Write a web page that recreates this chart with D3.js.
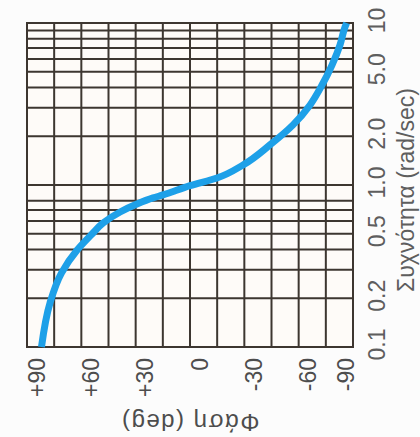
<!DOCTYPE html>
<html>
<head>
<meta charset="utf-8">
<script src="https://cdn.jsdelivr.net/npm/d3@7"></script>
<style>
  html, body { margin: 0; padding: 0; background: #fcfcfc; }
  svg { display: block; }
  text { font-family: "Liberation Sans", Arial, sans-serif; }
</style>
</head>
<body>
<svg id="chart" width="420" height="437"></svg>
<script>
// Phase response (deg) against frequency (rad/sec), drawn with the frequency axis vertical.
const freq  = [0.1, 0.187, 0.286, 0.397, 0.498, 0.582, 0.681, 0.763, 0.832, 0.868, 0.99, 1.105, 1.33, 1.77, 2.35, 3.12, 4.14, 5.5, 7.31, 9.45, 10];
const phase = [82, 77.3, 71, 62.3, 54.1, 48, 38.6, 29.3, 20.4, 14.9, 0, -14.9, -29.3, -44.2, -56.9, -66.3, -72.9, -78.4, -82.8, -85.6, -86.5];

const phaseTicks = [90, 60, 30, 0, -30, -60, -90];
const phaseTickLabels = ["+90", "+60", "+30", "0", "-30", "-60", "-90"];
const phaseGrid = [90, 75, 60, 45, 30, 15, 0, -15, -30, -45, -60, -75, -90];

const freqTicks = [0.1, 0.2, 0.5, 1, 2, 5, 10];
const freqTickLabels = ["0.1", "0.2", "0.5", "1.0", "2.0", "5.0", "10"];
const freqGrid = [0.2, 0.3, 0.4, 0.5, 0.6, 0.7, 0.8, 1, 2, 3, 4, 5, 6, 7, 8, 9];

const phaseTitle = "Φάση (deg)";
const freqTitle = "Συχνότητα (rad/sec)";

const svg = d3.select("#chart");
const plotL = 27, plotR = 353, plotT = 23, plotB = 347;

const x = d3.scaleLinear().domain([90, -90]).range([plotL, plotR]);
const y = d3.scaleLog().domain([0.1, 10]).range([plotB, plotT]);

const gridColor = "#3d3630";

// plot background
svg.append("rect")
  .attr("x", plotL).attr("y", plotT)
  .attr("width", plotR - plotL).attr("height", plotB - plotT)
  .attr("fill", "#fefbf8");

// grid
svg.append("g")
  .selectAll("line")
  .data(phaseGrid)
  .join("line")
  .attr("x1", d => x(d)).attr("x2", d => x(d))
  .attr("y1", plotT).attr("y2", plotB)
  .attr("stroke", gridColor).attr("stroke-width", 2);

svg.append("g")
  .selectAll("line")
  .data(freqGrid)
  .join("line")
  .attr("x1", plotL).attr("x2", plotR)
  .attr("y1", d => y(d)).attr("y2", d => y(d))
  .attr("stroke", gridColor).attr("stroke-width", 2);

// frame
svg.append("rect")
  .attr("x", plotL).attr("y", plotT)
  .attr("width", plotR - plotL).attr("height", plotB - plotT)
  .attr("fill", "none")
  .attr("stroke", gridColor).attr("stroke-width", 2);

// phase curve
const line = d3.line()
  .x((d, i) => x(phase[i]))
  .y(d => y(d))
  .curve(d3.curveMonotoneY);

svg.append("path")
  .datum(freq)
  .attr("d", line)
  .attr("fill", "none")
  .attr("stroke", "#1ea0e8")
  .attr("stroke-width", 7);

// phase axis (labels run upward beneath the plot)
const phaseAxis = svg.append("g")
  .attr("transform", `translate(0,${plotB})`)
  .call(d3.axisBottom(x)
    .tickValues(phaseTicks)
    .tickFormat((d, i) => phaseTickLabels[i])
    .tickSize(0));
phaseAxis.select(".domain").remove();
phaseAxis.selectAll("text")
  .attr("x", null).attr("y", null).attr("dy", null)
  .attr("text-anchor", "end")
  .attr("transform", d => `translate(${d === -90 ? 0 : 17},11) rotate(-90)`)
  .attr("font-size", 23)
  .attr("font-family", "Liberation Sans, Arial, sans-serif")
  .attr("fill", "#4d4d4d");

// frequency axis (labels run upward to the right of the plot)
const freqAxis = svg.append("g")
  .attr("transform", `translate(${plotR},0)`)
  .call(d3.axisRight(y)
    .tickValues(freqTicks)
    .tickFormat((d, i) => freqTickLabels[i])
    .tickSize(0));
freqAxis.select(".domain").remove();
freqAxis.selectAll("text")
  .attr("x", null).attr("y", null).attr("dy", null)
  .attr("text-anchor", "middle")
  .attr("transform", "translate(32,-3) rotate(-90)")
  .attr("font-size", 23)
  .attr("font-family", "Liberation Sans, Arial, sans-serif")
  .attr("fill", "#5e5e5e");

// axis titles
svg.append("text")
  .attr("transform", `translate(${(plotL + plotR) / 2},414) rotate(180)`)
  .attr("text-anchor", "middle")
  .attr("font-size", 24)
  .attr("letter-spacing", 1.5)
  .attr("fill", "#4d4d4d")
  .text(phaseTitle);

svg.append("text")
  .attr("transform", `translate(414,${(plotT + plotB) / 2 + 5}) rotate(-90)`)
  .attr("text-anchor", "middle")
  .attr("font-size", 23)
  .attr("fill", "#5e5e5e")
  .text(freqTitle);
</script>
</body>
</html>
